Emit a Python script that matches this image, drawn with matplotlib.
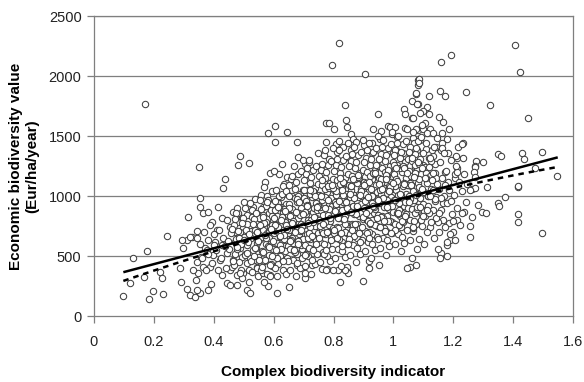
import matplotlib
matplotlib.use("Agg")
import matplotlib.pyplot as plt
import numpy as np

plt.rcParams['font.family'] = ['Liberation Sans', 'DejaVu Sans']

# ---- data (x = indicator, y = Eur/ha/year) ----
pts_left = [
    (0.096,167),(0.12,278),(0.131,481),(0.168,325),(0.176,539),(0.17,1769),(0.185,139),(0.196,211),
    (0.229,181),(0.22,369),(0.228,320),(0.243,667),(0.287,397),(0.291,280),(0.309,222),(0.32,175),
    (0.337,161),(0.354,194),(0.343,217),(0.382,217),(0.39,267),(0.34,300),(0.346,356),(0.33,383),
    (0.298,564),(0.309,633),(0.326,656),(0.345,711),(0.315,822),(0.354,911),(0.354,981),(0.363,856),
    (0.382,864),(0.413,911),(0.393,786),(0.41,717),(0.426,814),(0.443,800),(0.463,869),(0.482,856),
    (0.501,953),(0.538,972),(0.532,911),(0.51,842),(0.529,828),(0.482,786),(0.454,744),(0.471,703),
    (0.499,731),(0.521,758),(0.543,703),(0.43,647),(0.404,619),(0.382,633),(0.371,564),(0.396,508),
    (0.421,467),(0.443,522),(0.465,467),(0.493,494),(0.51,439),(0.521,481),(0.543,411),(0.454,383),
    (0.476,342),(0.499,356),(0.426,342),(0.443,272),(0.454,258),(0.476,258),(0.493,314),(0.518,286),
    (0.51,217),(0.415,383),(0.387,411),(0.365,411),(0.343,453),(0.359,494),(0.376,553),(0.4,589),
    (0.426,594),(0.448,622),(0.471,619),(0.487,564),(0.51,592),(0.532,550),(0.543,606),(0.549,494),
    (0.293,633),(0.343,647),(0.32,661),(0.352,1239),(0.436,1142),(0.43,1067),(0.488,1336),(0.48,1256),
    (0.519,1272),
    (0.452,560),(0.457,690),(0.461,410),(0.466,760),(0.470,520),(0.474,640),(0.478,900),(0.483,450),
    (0.487,700),(0.491,600),(0.495,820),(0.502,660),(0.506,520),(0.512,770),(0.517,380),(0.523,650),
    (0.527,880),(0.533,470),(0.537,720),(0.541,570),(0.546,840),(0.548,330),
    (0.355,600),(0.362,480),(0.368,700),(0.375,380),(0.381,520),(0.388,760),(0.395,440),(0.402,680),
    (0.409,550),(0.418,720),(0.425,480),(0.436,580),(0.441,400),
]

pts_top = [
    (0.817,2272),(0.794,2094),(0.904,2014),(0.838,1758),(0.58,1522),(0.605,1583),(0.605,1447),
    (0.644,1533),(0.677,1447),(0.683,1325),(0.704,1267),(0.717,1281),(0.76,1256),(0.776,1447),
    (0.774,1606),(0.785,1606),(0.8,1558),(0.841,1631),(0.844,1578),(0.859,1514),(0.864,1472),
    (0.875,1453),(0.807,1433),(0.831,1406),(0.812,1369),(0.901,1422),(0.927,1439),(0.933,1558),
    (0.949,1681),(0.954,1472),(0.957,1544),(0.982,1583),(0.99,1578),(1.006,1572),(0.997,1517),
    (1.011,1494),(1.038,1564),(1.035,1725),(1.039,1683),(1.063,1653),(1.061,1794),(1.075,1850),
    (1.081,1767),(1.083,1967),(1.083,1925),(1.066,1481),(1.083,1550),(1.008,1383),(0.999,1361),
    (1.033,1361),(0.927,1356),(0.953,1383),(0.858,1383),(0.844,1328),(0.805,1294),(0.784,1311),
]

pts_right = [
    (1.405,2256),(1.422,2036),(1.158,2119),(1.194,2175),(1.241,1869),(1.322,1758),(1.451,1653),
    (1.086,1972),(1.086,1939),(1.077,1856),(1.155,1875),(1.171,1836),(1.12,1833),(1.079,1764),
    (1.111,1739),(1.1,1711),(1.088,1689),(1.12,1683),(1.064,1653),(1.153,1656),(1.166,1619),
    (1.105,1606),(1.077,1556),(1.1,1556),(1.122,1561),(1.111,1528),(1.133,1528),(1.185,1558),
    (1.161,1522),(1.064,1481),(1.068,1439),(1.088,1467),(1.178,1472),(1.144,1411),(1.161,1444),
    (1.159,1383),(1.109,1392),(1.079,1383),(1.055,1356),(1.1,1356),(1.131,1336),(1.181,1356),
    (1.217,1411),(1.233,1439),(1.214,1319),(1.233,1314),(1.275,1292),(1.3,1283),(1.351,1350),
    (1.359,1333),(1.428,1361),(1.437,1306),(1.496,1364),(1.072,1244),(1.1,1258),(1.214,1231),
    (1.272,1253),(1.228,1431),(1.274,1244),(1.27,1203),(1.272,1161),(1.261,1058),(1.272,1064),
    (1.313,1078),(1.205,1147),(1.472,1231),(1.415,1078),(1.548,1169),(1.372,994),(1.35,939),
    (1.283,925),(1.417,1083),(1.255,1050),(1.352,919),(1.295,869),(1.309,856),(1.417,850),
    (1.417,786),(1.496,689),(1.236,869),(1.228,856),(1.263,822),(1.255,750),(1.255,661),
    (1.214,800),(1.2,703),(1.189,633),(1.18,592),(1.158,522),(1.155,481),(1.178,500),
    (1.077,422),(1.055,406),(1.205,633),(1.172,1203),(1.205,1183),(1.213,1203),(1.166,939),
    (1.166,800),(1.186,772),(1.2,792),(1.139,1133),(1.139,1189),
]

pts_bottom = [
    (0.61,189),(0.582,250),(0.652,244),(0.521,194),(0.704,314),(0.704,356),(0.821,286),
    (0.899,294),(0.849,356),(0.844,406),(0.838,383),(0.816,383),(0.797,383),(0.779,392),
    (0.76,392),(0.919,397),(0.919,461),(0.953,425),(1.044,397),(0.727,425),(0.677,425),
    (0.632,383),(0.588,344),(0.566,361),(0.543,397),
]

pts_cloud_a = [
    (0.552,820),(0.556,640),(0.559,1010),(0.561,540),(0.563,720),(0.566,905),(0.568,455),(0.571,1120),
    (0.573,600),(0.575,780),(0.577,350),(0.579,690),(0.581,960),(0.583,510),(0.585,860),(0.587,740),
    (0.589,1190),(0.591,620),(0.593,420),(0.595,1040),(0.597,560),(0.599,800),(0.554,970),(0.558,380),
    (0.562,660),(0.567,1075),(0.572,470),(0.576,915),(0.580,580),(0.584,700),(0.588,330),(0.592,880),
    (0.596,760),(0.598,500),(0.565,840),(0.578,1000),(0.590,430),(0.569,280),(0.586,650),(0.594,930),
    (0.601,690),(0.603,880),(0.605,520),(0.607,1050),(0.609,760),(0.611,610),(0.613,940),(0.615,430),
    (0.617,1180),(0.619,810),(0.621,660),(0.623,990),(0.625,560),(0.627,1270),(0.629,720),(0.631,870),
    (0.633,470),(0.635,1100),(0.637,630),(0.639,780),(0.641,930),(0.643,350),(0.645,1020),(0.647,580),
    (0.649,840),(0.602,1210),(0.606,400),(0.610,830),(0.614,700),(0.618,1000),(0.622,500),(0.626,910),
    (0.630,1080),(0.634,640),(0.638,540),(0.642,760),(0.646,1160),(0.648,690),(0.604,960),(0.612,330),
    (0.620,590),(0.628,1020),(0.636,890),(0.644,480),(0.616,740),
    (0.651,720),(0.653,930),(0.655,560),(0.657,1140),(0.659,800),(0.661,650),(0.663,1000),(0.665,470),
    (0.667,1250),(0.669,870),(0.671,600),(0.673,1060),(0.675,740),(0.677,520),(0.679,950),(0.681,820),
    (0.683,1180),(0.685,680),(0.687,400),(0.689,1020),(0.691,770),(0.693,900),(0.695,560),(0.697,1300),
    (0.699,640),(0.652,1090),(0.656,380),(0.660,890),(0.664,760),(0.668,540),(0.672,980),(0.676,1120),
    (0.680,620),(0.684,860),(0.688,710),(0.692,1210),(0.696,480),(0.654,830),(0.662,1170),(0.670,700),
    (0.678,440),(0.686,990),(0.694,850),(0.698,1050),(0.666,610),(0.674,330),(0.682,1000),(0.690,590),
    (0.701,760),(0.703,980),(0.705,590),(0.707,1180),(0.709,850),(0.711,680),(0.713,1050),(0.715,500),
    (0.717,1300),(0.719,900),(0.721,640),(0.723,1110),(0.725,780),(0.727,560),(0.729,990),(0.731,870),
    (0.733,1220),(0.735,720),(0.737,430),(0.739,1070),(0.741,820),(0.743,940),(0.745,610),(0.747,1360),
    (0.749,690),(0.702,1130),(0.706,420),(0.710,930),(0.714,800),(0.718,570),(0.722,1020),(0.726,1160),
    (0.730,660),(0.734,900),(0.738,750),(0.742,1250),(0.746,520),(0.704,870),(0.712,1230),(0.720,740),
    (0.728,470),(0.736,1030),(0.744,880),(0.748,1100),(0.716,650),(0.724,350),(0.732,1040),(0.740,620),
    (0.708,960),(0.730,780),
]

pts_cloud_b = [
    (0.751,800),(0.753,1010),(0.755,620),(0.757,1220),(0.759,880),(0.761,710),(0.763,1090),(0.765,530),
    (0.767,1340),(0.769,940),(0.771,680),(0.773,1150),(0.775,820),(0.777,590),(0.779,1030),(0.781,910),
    (0.783,1260),(0.785,760),(0.787,460),(0.789,1110),(0.791,860),(0.793,980),(0.795,650),(0.797,1400),
    (0.799,730),(0.752,1170),(0.756,450),(0.760,970),(0.764,840),(0.768,600),(0.772,1060),(0.776,1200),
    (0.780,700),(0.784,940),(0.788,790),(0.792,1290),(0.796,560),(0.754,910),(0.762,1270),(0.770,780),
    (0.778,500),(0.786,1070),(0.794,920),(0.798,1140),(0.766,690),(0.774,380),(0.782,1080),(0.790,660),
    (0.758,1000),(0.780,840),(0.770,1380),
    (0.801,840),(0.803,1050),(0.805,650),(0.807,1260),(0.809,920),(0.811,740),(0.813,1130),(0.815,560),
    (0.817,1380),(0.819,980),(0.821,710),(0.823,1190),(0.825,860),(0.827,620),(0.829,1070),(0.831,950),
    (0.833,1300),(0.835,800),(0.837,490),(0.839,1150),(0.841,900),(0.843,1020),(0.845,690),(0.847,1440),
    (0.849,770),(0.802,1210),(0.806,480),(0.810,1010),(0.814,880),(0.818,640),(0.822,1100),(0.826,1240),
    (0.830,740),(0.834,980),(0.838,830),(0.842,1330),(0.846,600),(0.804,950),(0.812,1310),(0.820,820),
    (0.828,540),(0.836,1110),(0.844,960),(0.848,1180),(0.816,730),(0.824,420),(0.832,1120),(0.840,700),
    (0.808,1040),(0.830,880),(0.819,1460),
    (0.851,870),(0.853,1090),(0.855,680),(0.857,1290),(0.859,960),(0.861,770),(0.863,1170),(0.865,590),
    (0.867,1410),(0.869,1010),(0.871,740),(0.873,1230),(0.875,900),(0.877,650),(0.879,1110),(0.881,990),
    (0.883,1340),(0.885,830),(0.887,520),(0.889,1190),(0.891,930),(0.893,1060),(0.895,720),(0.897,1470),
    (0.899,810),(0.852,1250),(0.856,510),(0.860,1050),(0.864,920),(0.868,670),(0.872,1140),(0.876,1280),
    (0.880,770),(0.884,1020),(0.888,860),(0.892,1370),(0.896,630),(0.854,990),(0.862,1350),(0.870,850),
    (0.878,570),(0.886,1150),(0.894,1000),(0.898,1220),(0.866,760),(0.874,450),(0.882,1160),(0.890,730),
    (0.858,1080),(0.880,910),
]

pts_cloud_c = [
    (0.901,900),(0.903,1120),(0.905,710),(0.907,1320),(0.909,990),(0.911,800),(0.913,1200),(0.915,620),
    (0.917,1440),(0.919,1040),(0.921,770),(0.923,1260),(0.925,930),(0.927,680),(0.929,1140),(0.931,1020),
    (0.933,1370),(0.935,860),(0.937,550),(0.939,1220),(0.941,960),(0.943,1090),(0.945,750),(0.947,1500),
    (0.949,840),(0.902,1280),(0.906,540),(0.910,1080),(0.914,950),(0.918,700),(0.922,1170),(0.926,1310),
    (0.930,800),(0.934,1050),(0.938,890),(0.942,1400),(0.946,660),(0.904,1020),(0.912,1380),(0.920,880),
    (0.928,600),(0.936,1180),(0.944,1030),(0.948,1250),(0.916,790),(0.924,480),(0.932,1190),(0.940,760),
    (0.908,1110),(0.930,940),
    (0.951,940),(0.953,1150),(0.955,740),(0.957,1350),(0.959,1020),(0.961,830),(0.963,1230),(0.965,650),
    (0.967,1470),(0.969,1070),(0.971,800),(0.973,1290),(0.975,960),(0.977,710),(0.979,1170),(0.981,1050),
    (0.983,1400),(0.985,890),(0.987,580),(0.989,1250),(0.991,990),(0.993,1120),(0.995,780),(0.997,1530),
    (0.999,870),(0.952,1310),(0.956,570),(0.960,1110),(0.964,980),(0.968,730),(0.972,1200),(0.976,1340),
    (0.980,830),(0.984,1080),(0.988,920),(0.992,1430),(0.996,690),(0.954,1050),(0.962,1410),(0.970,910),
    (0.978,630),(0.986,1210),(0.994,1060),(0.998,1280),(0.966,820),(0.974,510),(0.982,1220),(0.990,790),
    (0.958,1140),(0.980,970),
    (1.001,970),(1.003,1180),(1.005,770),(1.007,1380),(1.009,1050),(1.011,860),(1.013,1260),(1.015,680),
    (1.017,1500),(1.019,1100),(1.021,830),(1.023,1320),(1.025,990),(1.027,740),(1.029,1200),(1.031,1080),
    (1.033,1430),(1.035,920),(1.037,610),(1.039,1280),(1.041,1020),(1.043,1150),(1.045,810),(1.047,1560),
    (1.049,900),(1.002,1340),(1.006,600),(1.010,1140),(1.014,1010),(1.018,760),(1.022,1230),(1.026,1370),
    (1.030,860),(1.034,1110),(1.038,950),(1.042,1460),(1.046,720),(1.004,1080),(1.012,1440),(1.020,940),
    (1.028,660),(1.036,1240),(1.044,1090),(1.048,1310),(1.016,850),(1.024,540),(1.032,1250),
]

pts_cloud_d = [
    (1.051,1000),(1.053,1210),(1.055,800),(1.057,1410),(1.059,1080),(1.061,890),(1.063,1290),(1.065,710),
    (1.067,1530),(1.069,1130),(1.071,860),(1.073,1350),(1.075,1020),(1.077,770),(1.079,1230),(1.081,1110),
    (1.083,1460),(1.085,950),(1.087,640),(1.089,1310),(1.091,1050),(1.093,1180),(1.095,840),(1.097,1590),
    (1.099,930),(1.052,1370),(1.056,630),(1.060,1170),(1.064,1040),(1.068,790),(1.072,1260),(1.076,1400),
    (1.080,890),(1.084,1140),(1.088,980),(1.092,1490),(1.096,750),(1.054,1110),(1.062,480),(1.070,970),
    (1.078,560),(1.086,1270),
    (1.101,1030),(1.104,1240),(1.107,830),(1.110,1440),(1.113,1110),(1.116,920),(1.119,1320),(1.122,740),
    (1.125,1060),(1.128,1380),(1.131,880),(1.134,1180),(1.137,650),(1.140,1270),(1.143,990),(1.146,1480),
    (1.149,780),(1.102,600),(1.108,1190),(1.114,1000),(1.120,860),(1.126,1290),(1.132,1050),(1.138,960),
    (1.144,1150),(1.148,560),(1.111,700),(1.123,1170),(1.135,1410),(1.141,820),
    (1.152,1060),(1.156,1280),(1.160,880),(1.164,1400),(1.168,1000),(1.172,740),(1.176,1210),(1.180,940),
    (1.184,1120),(1.188,680),(1.192,1300),(1.196,850),(1.154,700),(1.162,1150),(1.170,1360),(1.178,620),
    (1.186,1050),(1.194,960),(1.158,980),(1.174,1090),
    (1.203,1010),(1.208,1250),(1.213,900),(1.219,1120),(1.224,760),(1.230,1040),(1.236,1180),(1.242,950),
    (1.247,1100),(1.210,1330),
]

pts_core_a = [
    (0.461,724),(0.467,428),(0.473,862),(0.479,556),(0.485,650),(0.491,384),(0.497,818),(0.503,512),
    (0.509,716),(0.515,620),(0.521,944),(0.527,368),(0.533,812),(0.539,566),(0.545,700),(0.551,464),
    (0.557,888),(0.563,532),(0.569,776),(0.575,650),(0.581,963),(0.587,427),(0.593,831),(0.599,625),
    (0.605,759),(0.611,483),(0.617,907),(0.623,561),(0.629,825),(0.635,679),(0.641,1043),(0.647,457),
    (0.653,901),(0.659,635),(0.665,789),(0.671,533),(0.677,977),(0.683,621),(0.689,845),(0.695,749),
    (0.701,1053),(0.707,517),(0.713,921),(0.719,695),(0.725,799),(0.731,552),(0.737,996),(0.743,630),
    (0.749,914),(0.755,748),(0.761,1132),(0.767,516),(0.773,990),(0.779,704),(0.785,888),(0.791,632),
    (0.797,1066),(0.803,690),(0.809,934),(0.815,818),(0.821,1152),(0.827,586),(0.833,1010),(0.839,764),
    (0.845,898),(0.851,642),(0.857,1086),(0.863,720),(0.869,984),(0.875,848),(0.881,1171),(0.887,615),
    (0.893,1039),(0.899,823),(0.905,957),(0.911,691),(0.917,1115),(0.923,779),(0.929,1003),(0.935,907),
    (0.941,1261),(0.947,645),(0.953,1099),(0.959,823),(0.965,987),(0.971,711),(0.977,1175),(0.983,789),
    (0.989,1073),(0.995,917),(1.001,1261),(1.007,715),(1.013,1129),(1.019,883),(1.025,1007),(1.031,780),
    (1.037,1234),(1.043,848),(1.049,1092),(1.055,976),(1.061,1320),(1.067,734),(1.073,1188),(1.079,912),
    (1.085,1076),(1.091,800),(1.097,1234),(1.103,878),(1.109,1152),(1.115,996),(1.121,1320),(1.127,784),
    (1.133,1188),(1.139,972),(1.145,1096),(1.151,860),
]

pts_core_b = [
    (0.464,456),(0.470,810),(0.476,574),(0.482,708),(0.488,362),(0.494,776),(0.500,630),(0.506,904),
    (0.512,528),(0.518,682),(0.524,456),(0.530,770),(0.536,504),(0.542,858),(0.548,622),(0.554,756),
    (0.560,410),(0.566,824),(0.572,678),(0.578,951),(0.584,575),(0.590,729),(0.596,503),(0.602,817),
    (0.608,551),(0.614,905),(0.620,669),(0.626,803),(0.632,457),(0.638,871),(0.644,725),(0.650,999),
    (0.656,623),(0.662,777),(0.668,551),(0.674,865),(0.680,599),(0.686,953),(0.692,717),(0.698,851),
    (0.704,505),(0.710,919),(0.716,773),(0.722,1047),(0.728,670),(0.734,824),(0.740,598),(0.746,912),
    (0.752,646),(0.758,1000),(0.764,764),(0.770,898),(0.776,552),(0.782,966),(0.788,820),(0.794,1094),
    (0.800,718),(0.806,872),(0.812,646),(0.818,960),(0.824,694),(0.830,1048),(0.836,812),(0.842,946),
    (0.848,600),(0.854,1014),(0.860,868),(0.866,1142),(0.872,766),(0.878,919),(0.884,693),(0.890,1007),
    (0.896,741),(0.902,1095),(0.908,859),(0.914,993),(0.920,647),(0.926,1061),(0.932,915),(0.938,1189),
    (0.944,813),(0.950,967),(0.956,741),(0.962,1055),(0.968,789),(0.974,1143),(0.980,907),(0.986,1041),
    (0.992,695),(0.998,1109),(1.004,963),(1.010,1237),(1.016,861),(1.022,1015),(1.028,788),(1.034,1102),
    (1.040,836),(1.046,1190),(1.052,954),(1.058,1088),(1.064,742),(1.070,1156),(1.076,1010),(1.082,1284),
    (1.088,908),(1.094,1062),(1.100,836),(1.106,1150),(1.112,884),(1.118,1238),(1.124,1002),(1.130,1136),
]

# trend lines
trend_x = [0.098, 1.549]
linear_y = [365, 1322]
poly_coef = [-140.0, 885.0, 207.0]   # dashed 2nd-order trend: c2, c1, c0

x_ticks = [0, 0.2, 0.4, 0.6, 0.8, 1, 1.2, 1.4, 1.6]
x_tick_labels = ["0", "0.2", "0.4", "0.6", "0.8", "1", "1.2", "1.4", "1.6"]
y_ticks = [0, 500, 1000, 1500, 2000, 2500]

# ---- plotting ----
fig = plt.figure(figsize=(5.84, 3.82), dpi=100)
ax = fig.add_axes([94/584, 1-316/382, (573-94)/584, (316-16)/382])

all_pts = (pts_left + pts_top + pts_right + pts_bottom + pts_cloud_a + pts_cloud_b
           + pts_cloud_c + pts_cloud_d + pts_core_a + pts_core_b)
xs = np.array([p[0] for p in all_pts])
ys = np.array([p[1] for p in all_pts])

for yv in y_ticks[1:]:
    ax.axhline(yv, color="#7f7f7f", lw=0.9, zorder=1)

ax.scatter(xs, ys, s=21, facecolors="white", edgecolors="#404040", linewidths=0.75, zorder=2)

ax.plot(trend_x, linear_y, color="black", lw=1.8, zorder=4, solid_capstyle="butt")
xd = np.linspace(trend_x[0], trend_x[1], 100)
ax.plot(xd, np.polyval(poly_coef, xd), color="black", lw=1.8, ls=(0, (2.2, 2.0)), zorder=4)

ax.set_xlim(0, 1.6)
ax.set_ylim(0, 2500)
ax.set_xticks(x_ticks)
ax.set_xticklabels(x_tick_labels)
ax.set_yticks(y_ticks)
for sp in ax.spines.values():
    sp.set_color("#7f7f7f")
    sp.set_linewidth(0.9)
ax.tick_params(axis="both", direction="out", length=5, width=0.9, color="#7f7f7f",
               labelsize=10.5, labelcolor="#222222", pad=4)
ax.tick_params(axis="x", pad=9)

ax.set_xlabel("Complex biodiversity indicator", fontsize=11, fontweight="bold", labelpad=11)
ax.set_ylabel("Economic biodiversity value\n(Eur/ha/year)", fontsize=11, fontweight="bold",
              labelpad=7, multialignment="center")

fig.savefig("out.png", dpi=100)
